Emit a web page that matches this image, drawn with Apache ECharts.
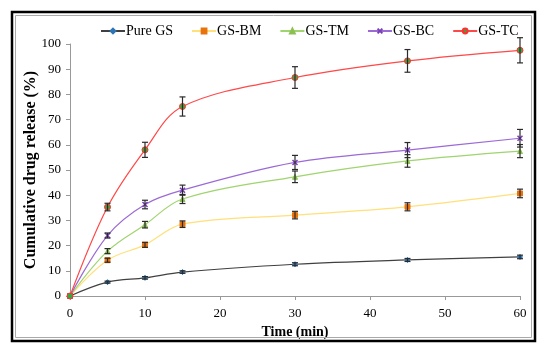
<!DOCTYPE html>
<html><head><meta charset="utf-8">
<script src="https://cdn.jsdelivr.net/npm/echarts@6/dist/echarts.min.js"></script>
<style>html,body{margin:0;padding:0;background:#fff}#c{width:550px;height:354px}</style>
</head><body><div id="c"></div>
<script>
var times = [0, 5, 10, 15, 30, 45, 60];
var seriesNames = ['Pure GS', 'GS-BM', 'GS-TM', 'GS-BC', 'GS-TC'];
var pureGS = [0, 5.5, 7.2, 9.5, 12.6, 14.3, 15.5];
var gsBM = [0, 14.2, 20.3, 28.5, 32.1, 35.4, 40.7];
var gsTM = [0, 17.8, 28.3, 38.5, 47.3, 53.6, 57.5];
var gsBC = [0, 24.0, 36.3, 42.0, 53.0, 57.9, 62.6];
var gsTC = [0, 35.3, 58.0, 75.2, 86.7, 93.3, 97.5];
var errPureGS = [0, 0.4, 0.5, 0.5, 0.6, 0.6, 0.7];
var errBM = [0, 0.8, 1.0, 1.3, 1.5, 1.6, 1.7];
var errTM = [0, 1.0, 1.3, 1.8, 2.3, 2.5, 2.6];
var errBC = [0, 1.0, 1.7, 2.0, 2.8, 3.0, 3.5];
var errTC = [0, 1.5, 3.0, 3.8, 4.3, 4.5, 5.0];
var xTicks = [0, 10, 20, 30, 40, 50, 60];
var yTicks = [0, 10, 20, 30, 40, 50, 60, 70, 80, 90, 100];

var values = [pureGS, gsBM, gsTM, gsBC, gsTC];
var errs = [errPureGS, errBM, errTM, errBC, errTC];
var lineColors = ['#404040', '#ffe07a', '#9fd46e', '#9b6ad6', '#ff4848'];
var markColors = ['#2e75b6', '#e8720c', '#8cc152', '#7a3fb8', '#3fa33f'];
var markBorders = ['#2e75b6', '#e8720c', '#8cc152', '#7a3fb8', '#ff3030'];
var symbols = ['diamond', 'rect', 'triangle', 'path://M0,0L10,10M10,0L0,10', 'circle'];
var symSizes = [5, 5, 5, 5, 6];

var series = [];
values.forEach(function (vals, i) {
  series.push({
    name: seriesNames[i], type: 'line', smooth: 0.35,
    data: times.map(function (t, k) { return [t, vals[k]]; }),
    lineStyle: { color: lineColors[i], width: 1.2 },
    itemStyle: { color: markColors[i], borderColor: markBorders[i], borderWidth: i === 3 ? 1.5 : 1 },
    symbol: symbols[i], symbolSize: symSizes[i], showSymbol: true, z: 3
  });
});
values.forEach(function (vals, i) {
  series.push({
    type: 'custom', name: seriesNames[i] + ' err', z: 4, silent: true,
    data: times.map(function (t, k) { return [t, vals[k] - errs[i][k], vals[k] + errs[i][k]]; }).filter(function (d) { return d[2] - d[1] > 0; }),
    renderItem: function (params, api) {
      var lo = api.coord([api.value(0), api.value(1)]);
      var hi = api.coord([api.value(0), api.value(2)]);
      var w = 3;
      var st = { stroke: '#2a2a2a', lineWidth: 1.2 };
      return { type: 'group', children: [
        { type: 'line', shape: { x1: lo[0], y1: lo[1], x2: hi[0], y2: hi[1] }, style: st },
        { type: 'line', shape: { x1: lo[0] - w, y1: lo[1], x2: lo[0] + w, y2: lo[1] }, style: st },
        { type: 'line', shape: { x1: hi[0] - w, y1: hi[1], x2: hi[0] + w, y2: hi[1] }, style: st }
      ]};
    }
  });
});

var chart = echarts.init(document.getElementById('c'), null, { renderer: 'canvas' });
var serif = '"Liberation Serif", "Times New Roman", serif';
chart.setOption({
  animation: false,
  backgroundColor: '#fff',
  textStyle: { fontFamily: serif },
  graphic: [
    { type: 'rect', shape: { x: 12, y: 12, width: 523, height: 329 }, style: { fill: 'none', stroke: '#000', lineWidth: 2.5 }, z: 100 },
    { type: 'rect', shape: { x: 15.5, y: 15.5, width: 516, height: 322 }, style: { fill: 'none', stroke: '#aaa', lineWidth: 1 }, z: 100 }
  ],
  legend: {
    top: 19, left: 95, itemGap: 18, itemWidth: 24, itemHeight: 6,
    data: seriesNames,
    textStyle: { fontFamily: serif, fontSize: 14, color: '#000', padding: [0, 0, 0, -4] }
  },
  grid: { left: 70, right: 30, top: 44, bottom: 58 },
  xAxis: {
    type: 'value', min: 0, max: 60, interval: 10,
    name: 'Time (min)', nameLocation: 'middle', nameGap: 24,
    nameTextStyle: { fontFamily: serif, fontWeight: 'bold', fontSize: 14, color: '#000' },
    axisLine: { lineStyle: { color: '#999' } },
    axisTick: { show: true, length: 4, lineStyle: { color: '#999' } },
    axisLabel: { fontFamily: serif, fontSize: 13, color: '#000', margin: 11 },
    splitLine: { show: false }
  },
  yAxis: {
    type: 'value', min: 0, max: 100, interval: 10,
    name: 'Cumulative drug release (%)', nameLocation: 'middle', nameGap: 31, nameRotate: 90,
    nameMoveOverlap: false,
    nameTextStyle: { fontFamily: serif, fontWeight: 'bold', fontSize: 16, color: '#000' },
    axisLine: { show: true, lineStyle: { color: '#999' } },
    axisTick: { show: true, length: 4, lineStyle: { color: '#999' } },
    axisLabel: { fontFamily: serif, fontSize: 13, color: '#000', margin: 9 },
    splitLine: { show: false }
  },
  series: series
});
</script></body></html>
